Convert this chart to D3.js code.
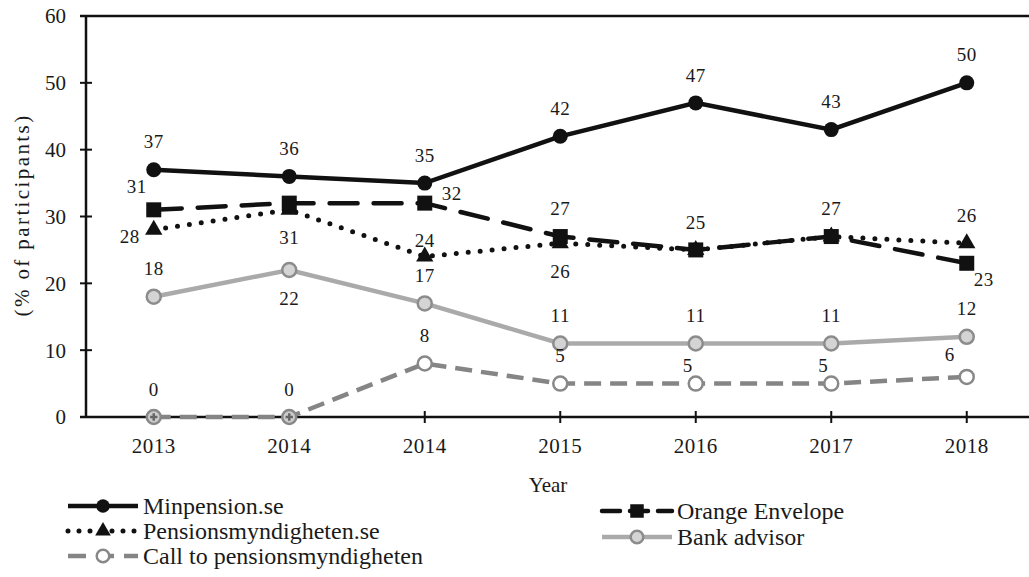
<!DOCTYPE html>
<html>
<head>
<meta charset="utf-8">
<script src="https://cdn.jsdelivr.net/npm/d3@7"></script>
<style>
  body { margin: 0; background: #fff; }
</style>
</head>
<body>
<svg width="1029" height="577" font-family="'Liberation Serif', 'Times New Roman', Tinos, 'DejaVu Serif', serif"></svg>
<script>
// categorias del eje x (el original repite 2014)
const years = ["2013", "2014", "2014", "2015", "2016", "2017", "2018"];
const yTicks = [0, 10, 20, 30, 40, 50, 60];

const minpension = [37, 36, 35, 42, 47, 43, 50];
const orangeEnvelope = [31, 32, 32, 27, 25, 27, 23];
const pensionsmyndigheten = [28, 31, 24, 26, 25, 27, 26];
const bankAdvisor = [18, 22, 17, 11, 11, 11, 12];
const callPensions = [0, 0, 8, 5, 5, 5, 6];

// donde va cada etiqueta de valor ("" = sin etiqueta)
const minpensionLabels = ["up", "up", "up", "up", "up", "up", "up"];
const orangeLabels = ["upleft", "", "right", "up", "up", "up", "downright"];
const pensLabels = ["left", "down", "upnear", "down", "", "", "up"];
const bankLabels = ["up", "down", "up", "up", "up", "up", "up"];
const callLabels = ["up", "up", "up", "up", "upleft2", "upleft2", "upleft"];

const svg = d3.select("svg");
const plotLeft = 86, plotTop = 16, plotBottom = 417;
const ink = "#1a1a1a";

const x = d3.scaleBand().domain(d3.range(years.length)).range([plotLeft, plotLeft + 7 * 135.5]);
const cx = i => x(i) + x.bandwidth() / 2;
const y = d3.scaleLinear().domain([0, 60]).range([plotBottom, plotTop]);

// marco
svg.append("line").attr("x1", 80).attr("x2", 1029).attr("y1", plotTop).attr("y2", plotTop)
    .attr("stroke", "#111").attr("stroke-width", 2.5);
svg.append("line").attr("x1", 80).attr("x2", 1029).attr("y1", plotBottom).attr("y2", plotBottom)
    .attr("stroke", "#111").attr("stroke-width", 2.5);
svg.append("line").attr("x1", plotLeft).attr("x2", plotLeft).attr("y1", plotTop).attr("y2", plotBottom)
    .attr("stroke", "#111").attr("stroke-width", 2.5);

// eje y
const gy = svg.append("g");
gy.selectAll("line").data(yTicks).enter().append("line")
    .attr("x1", 80).attr("x2", 92).attr("y1", d => y(d)).attr("y2", d => y(d))
    .attr("stroke", "#111").attr("stroke-width", 2);
gy.selectAll("text").data(yTicks).enter().append("text")
    .attr("x", 66).attr("y", d => y(d)).attr("dy", "0.35em")
    .attr("text-anchor", "end").attr("fill", ink).style("font-size", "21px").text(d => d);

// eje x
const gx = svg.append("g");
gx.selectAll("line").data(years).enter().append("line")
    .attr("x1", (d, i) => cx(i)).attr("x2", (d, i) => cx(i))
    .attr("y1", plotBottom - 6).attr("y2", plotBottom + 6)
    .attr("stroke", "#111").attr("stroke-width", 2);
gx.selectAll("text").data(years).enter().append("text")
    .attr("x", (d, i) => cx(i)).attr("y", 453)
    .attr("text-anchor", "middle").attr("fill", ink).style("font-size", "21px")
    .style("letter-spacing", "0.5px").text(d => d);

svg.append("text").attr("x", 548).attr("y", 492).attr("text-anchor", "middle")
    .attr("fill", ink).style("font-size", "21px").text("Year");
svg.append("text").attr("transform", "translate(22,215) rotate(-90)").attr("dy", "0.35em")
    .attr("text-anchor", "middle").attr("fill", ink).style("font-size", "21px")
    .style("letter-spacing", "2.4px").text("(% of participants)");

const series = [
    { name: "Callto", label: "Call to pensionsmyndigheten", values: callPensions, labels: callLabels,
      stroke: "#858585", width: 4.5, dash: "17 9", cap: "butt", marker: "ring", mfill: "#fff", mstroke: "#888" },
    { name: "Bank", label: "Bank advisor", values: bankAdvisor, labels: bankLabels,
      stroke: "#aaaaaa", width: 4.5, dash: null, cap: "butt", marker: "ring", mfill: "#d4d4d4", mstroke: "#8c8c8c" },
    { name: "Pens", label: "Pensionsmyndigheten.se", values: pensionsmyndigheten, labels: pensLabels,
      stroke: "#111", width: 5, dash: "0 12", cap: "round", marker: "triangle" },
    { name: "Orange", label: "Orange Envelope", values: orangeEnvelope, labels: orangeLabels,
      stroke: "#111", width: 4.5, dash: "28 16", cap: "round", marker: "square" },
    { name: "Min", label: "Minpension.se", values: minpension, labels: minpensionLabels,
      stroke: "#111", width: 4.5, dash: null, cap: "butt", marker: "circle" }
];

const line = d3.line().x((d, i) => cx(i)).y(d => y(d));

function drawMarker(g, s, px, py, scale, isZero) {
    const k = scale || 1;
    if (s.marker === "circle") {
        g.append("circle").attr("cx", px).attr("cy", py).attr("r", 7.5 * k).attr("fill", "#111");
    } else if (s.marker === "square") {
        g.append("rect").attr("x", px - 7.5 * k).attr("y", py - 7.5 * k)
            .attr("width", 15 * k).attr("height", 15 * k).attr("fill", "#111");
    } else if (s.marker === "triangle") {
        g.append("path").attr("d", d3.symbol(d3.symbolTriangle, 130 * k * k)())
            .attr("transform", `translate(${px},${py})`).attr("fill", "#111");
    } else {
        g.append("circle").attr("cx", px).attr("cy", py).attr("r", 7 * k)
            .attr("fill", isZero ? "#ccc" : s.mfill).attr("stroke", s.mstroke).attr("stroke-width", 2.5);
        if (isZero) {
            // en el original el marcador sobre el eje se ve como un circulo con cruz
            g.append("path").attr("d", d3.symbol(d3.symbolCross, 30)())
                .attr("transform", `translate(${px},${py})`).attr("fill", "#666");
        }
    }
}

const offsets = {
    up: [0, -28], upnear: [0, -16], down: [0, 28], left: [-24, 6], right: [27, -10],
    upleft: [-17, -23], downright: [17, 16], upleft2: [-8, -18]
};

series.forEach(s => {
    const g = svg.append("g").attr("class", s.name);
    g.append("path").datum(s.values).attr("d", line)
        .attr("fill", "none").attr("stroke", s.stroke).attr("stroke-width", s.width)
        .attr("stroke-dasharray", s.dash).attr("stroke-linecap", s.cap);
    s.values.forEach((v, i) => drawMarker(g, s, cx(i), y(v), 1, v === 0));
});

// etiquetas de valor encima de todo
series.forEach(s => {
    svg.append("g").selectAll("text")
        .data(s.values.map((v, i) => ({ v, i, pos: s.labels[i] })).filter(d => d.pos))
        .enter().append("text")
        .attr("x", d => cx(d.i) + offsets[d.pos][0])
        .attr("y", d => y(d.v) + offsets[d.pos][1])
        .attr("dy", "0.35em").attr("text-anchor", "middle").attr("fill", ink)
        .style("font-size", "19px").style("letter-spacing", "0.5px").text(d => d.v);
});

// leyenda
const legendOrder = [
    [series[4], 68, 506], [series[3], 602, 511],
    [series[2], 68, 531], [series[1], 602, 537],
    [series[0], 68, 556]
];
legendOrder.forEach(([s, lx, ly]) => {
    const g = svg.append("g");
    g.append("line").attr("x1", lx).attr("x2", lx + 70).attr("y1", ly).attr("y2", ly)
        .attr("stroke", s.stroke).attr("stroke-width", s.width)
        .attr("stroke-dasharray", s.name === "Pens" ? "0 11" : (s.dash ? "18 10" : null))
        .attr("stroke-linecap", s.cap === "round" ? "round" : "butt");
    drawMarker(g, s, lx + 35, ly, 0.9);
    g.append("text").attr("x", lx + 75).attr("y", ly).attr("dy", "0.35em").attr("fill", ink)
        .style("font-size", "24px").text(s.label);
});
</script>
</body>
</html>
